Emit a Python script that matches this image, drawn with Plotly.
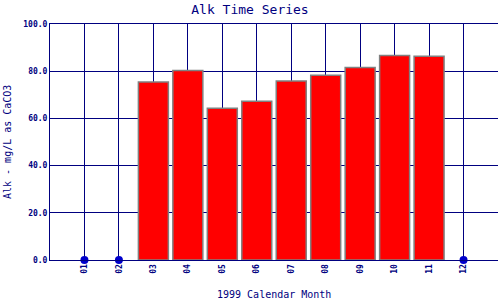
import plotly.graph_objects as go

months = ["01", "02", "03", "04", "05", "06", "07", "08", "09", "10", "11", "12"]
alk = [None, None, 75.4, 80.3, 64.3, 67.3, 75.8, 78.3, 81.6, 86.7, 86.3, None]
y_ticks = [0, 20, 40, 60, 80, 100]

NAVY = "#000080"
FONT = "DejaVu Sans Mono"

xs = list(range(1, len(months) + 1))
bar_x = [x for x, v in zip(xs, alk) if v is not None]
bar_y = [v for v in alk if v is not None]
miss_x = [x for x, v in zip(xs, alk) if v is None]

fig = go.Figure()
fig.add_trace(go.Bar(
    x=bar_x, y=bar_y, width=0.87,
    marker=dict(color="#FF0000", line=dict(color="#808080", width=1.5)),
    showlegend=False,
))
fig.add_trace(go.Scatter(
    x=miss_x, y=[0] * len(miss_x), mode="markers",
    marker=dict(color="#0000CC", size=8),
    cliponaxis=False, showlegend=False,
))

fig.update_layout(
    width=500, height=300,
    margin=dict(l=50, r=2, t=24, b=40),
    paper_bgcolor="white", plot_bgcolor="white",
    font=dict(family=FONT, color=NAVY),
    title=dict(text="Alk Time Series", x=0.5, xanchor="center",
               y=1 - 9.5 / 300, yanchor="middle", yref="container",
               font=dict(family=FONT, size=13, color=NAVY)),
    xaxis=dict(
        range=[0, 13], tickmode="array", tickvals=xs, ticktext=months,
        tickangle=-90, showgrid=True, gridcolor=NAVY, gridwidth=1,
        showline=True, linecolor=NAVY, linewidth=1, zeroline=False,
        mirror=True,
        ticks="", tickfont=dict(family=FONT, size=8, color=NAVY, weight="bold"),
        fixedrange=True,
    ),
    yaxis=dict(
        range=[0, 100], tickmode="array", tickvals=y_ticks,
        ticktext=[f"{v:.1f}" for v in y_ticks],
        showgrid=True, gridcolor=NAVY, gridwidth=1,
        showline=True, linecolor=NAVY, linewidth=1, zeroline=False,
        ticks="", tickfont=dict(family=FONT, size=8, color=NAVY, weight="bold"),
        fixedrange=True,
    ),
    annotations=[
        dict(text="1999 Calendar Month", xref="paper", yref="paper",
             x=0.5, y=-34 / 236, xanchor="center", yanchor="middle",
             showarrow=False, font=dict(family=FONT, size=10, color=NAVY)),
        dict(text="Alk - mg/L as CaCO3", xref="paper", yref="paper",
             x=-43 / 448, y=0.5, xanchor="center", yanchor="middle",
             textangle=-90, showarrow=False,
             font=dict(family=FONT, size=10, color=NAVY)),
    ],
)

fig.write_html("out.html")
